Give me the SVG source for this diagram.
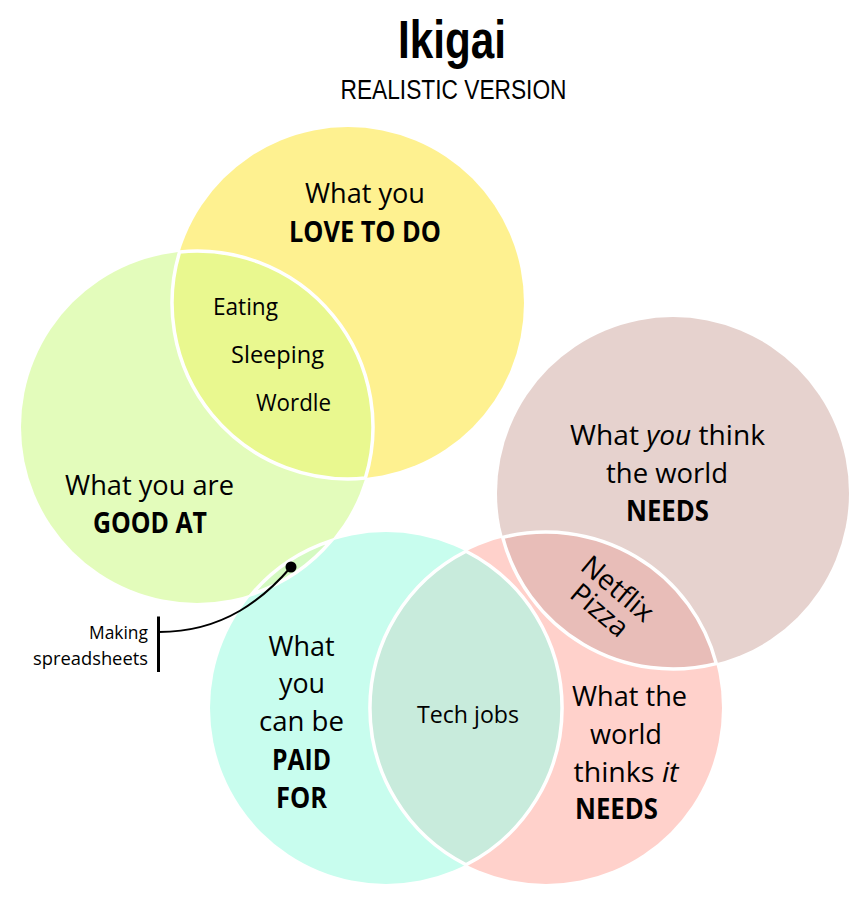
<svg xmlns="http://www.w3.org/2000/svg" width="866" height="900" viewBox="0 0 866 900">
<style>
  .t { font-family: "Open Sans", "Noto Sans", "DejaVu Sans", sans-serif; font-size: 28px; fill: #000; }
  .b { font-weight: bold; }
  .s { font-size: 24px; }
  .xs { font-size: 18.5px; }
  .i { font-style: italic; }
  .lens { stroke: #fff; stroke-width: 3.5; }
  .title { font-family: "Liberation Sans", Arial, sans-serif; fill: #000; }
</style>
<rect width="866" height="900" fill="#ffffff"/>

<g id="title">
  <text class="title" x="452" y="58" font-size="53" font-weight="bold" text-anchor="middle" textLength="108" lengthAdjust="spacingAndGlyphs">Ikigai</text>
  <text class="title" x="453.5" y="99" font-size="27" text-anchor="middle" textLength="226" lengthAdjust="spacingAndGlyphs">REALISTIC VERSION</text>
</g>

<g id="circles">
  <g id="love"><circle cx="348" cy="303" r="176" fill="#fef190"/></g>
  <g id="good"><circle cx="197" cy="427" r="176" fill="#e3fcbb"/></g>
  <g id="needs"><circle cx="673" cy="493" r="176" fill="#e6d2ce"/></g>
  <g id="paid"><circle cx="386" cy="708" r="176" fill="#c8fdee"/></g>
  <g id="thinks"><circle cx="546" cy="708" r="176" fill="#ffd1cb"/></g>
</g>

<g id="lenses">
  <g id="lens-love-good"><path class="lens" fill="#e9f88f" d="M179.6,251.9 A176,176 0 0 0 365.4,478.1 A176,176 0 0 0 179.6,251.9 Z"/></g>
  <g id="lens-good-paid"><path class="lens" fill="#d5fac2" d="M251.7,594.3 A176,176 0 0 0 331.3,540.7 A176,176 0 0 0 251.7,594.3 Z"/></g>
  <g id="lens-paid-thinks"><path class="lens" fill="#c8ebdc" d="M466,864.8 A176,176 0 0 0 466,551.2 A176,176 0 0 0 466,864.8 Z"/></g>
  <g id="lens-needs-thinks"><path class="lens" fill="#e8bdb8" d="M502.7,537.4 A176,176 0 0 0 716.3,663.6 A176,176 0 0 0 502.7,537.4 Z"/></g>
</g>

<g id="labels">
  <g id="love-text">
    <text class="t" x="365" y="203" text-anchor="middle" textLength="120" lengthAdjust="spacingAndGlyphs">What you</text>
    <text class="t b" x="365" y="242" text-anchor="middle" textLength="152" lengthAdjust="spacingAndGlyphs">LOVE TO DO</text>
  </g>
  <g id="love-good-text">
    <text class="t s" x="213" y="315" textLength="65" lengthAdjust="spacingAndGlyphs">Eating</text>
    <text class="t s" x="231" y="362.5" textLength="93" lengthAdjust="spacingAndGlyphs">Sleeping</text>
    <text class="t s" x="256" y="410.5" textLength="75" lengthAdjust="spacingAndGlyphs">Wordle</text>
  </g>
  <g id="good-text">
    <text class="t" x="149.5" y="495" text-anchor="middle" textLength="169" lengthAdjust="spacingAndGlyphs">What you are</text>
    <text class="t b" x="150" y="532.5" text-anchor="middle" textLength="114" lengthAdjust="spacingAndGlyphs">GOOD AT</text>
  </g>
  <g id="needs-text">
    <text class="t" x="667.5" y="445" text-anchor="middle" textLength="195" lengthAdjust="spacingAndGlyphs">What <tspan class="i">you</tspan> think</text>
    <text class="t" x="667" y="482.5" text-anchor="middle" textLength="122" lengthAdjust="spacingAndGlyphs">the world</text>
    <text class="t b" x="667.5" y="520.5" text-anchor="middle" textLength="83" lengthAdjust="spacingAndGlyphs">NEEDS</text>
  </g>
  <g id="needs-thinks-text" transform="translate(607,601.5) rotate(40)">
    <text class="t" x="0" y="-7" font-size="20" text-anchor="middle">Netflix</text>
    <text class="t" x="0" y="21" font-size="20" text-anchor="middle">Pizza</text>
  </g>
  <g id="paid-text">
    <text class="t" x="301.5" y="656" text-anchor="middle" textLength="66" lengthAdjust="spacingAndGlyphs">What</text>
    <text class="t" x="302" y="693" text-anchor="middle" textLength="46" lengthAdjust="spacingAndGlyphs">you</text>
    <text class="t" x="301.5" y="731" text-anchor="middle" textLength="85" lengthAdjust="spacingAndGlyphs">can be</text>
    <text class="t b" x="301.5" y="769.5" text-anchor="middle" textLength="59" lengthAdjust="spacingAndGlyphs">PAID</text>
    <text class="t b" x="301.5" y="807.5" text-anchor="middle" textLength="51" lengthAdjust="spacingAndGlyphs">FOR</text>
  </g>
  <g id="paid-thinks-text">
    <text class="t s" x="468" y="723" text-anchor="middle" textLength="102" lengthAdjust="spacingAndGlyphs">Tech jobs</text>
  </g>
  <g id="thinks-text">
    <text class="t" x="629.5" y="706" text-anchor="middle" textLength="115" lengthAdjust="spacingAndGlyphs">What the</text>
    <text class="t" x="626" y="744" text-anchor="middle" textLength="72" lengthAdjust="spacingAndGlyphs">world</text>
    <text class="t" x="626" y="782" text-anchor="middle" textLength="105" lengthAdjust="spacingAndGlyphs">thinks <tspan class="i">it</tspan></text>
    <text class="t b" x="616.5" y="819" text-anchor="middle" textLength="83" lengthAdjust="spacingAndGlyphs">NEEDS</text>
  </g>
  <g id="good-paid-text">
    <text class="t xs" x="148" y="639" text-anchor="end" textLength="59" lengthAdjust="spacingAndGlyphs">Making</text>
    <text class="t xs" x="148" y="665" text-anchor="end" textLength="115" lengthAdjust="spacingAndGlyphs">spreadsheets</text>
  </g>
</g>

<g id="connectors">
  <path d="M291,567 C265,597 225,632 159,632" fill="none" stroke="#000" stroke-width="2"/>
  <circle cx="291" cy="567" r="5.5" fill="#000"/>
  <line x1="158.5" y1="616.5" x2="158.5" y2="672" stroke="#000" stroke-width="3"/>
</g>
</svg>
